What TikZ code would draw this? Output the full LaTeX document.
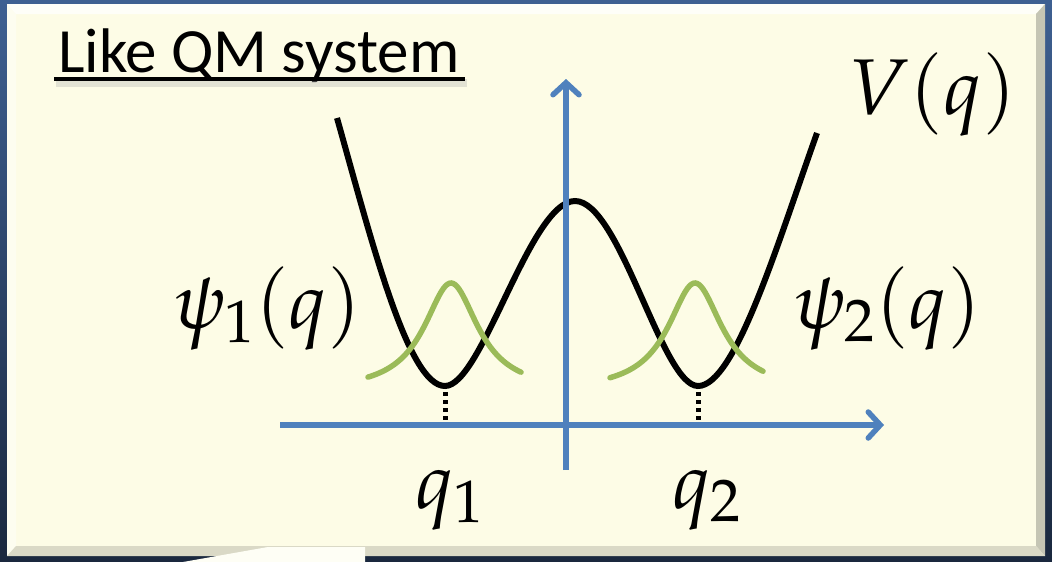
\documentclass[tikz,border=0pt]{standalone}
\usepackage{mathpazo}
\usepackage[no-math]{fontspec}
\newfontfamily\titlefont{Carlito}
\usetikzlibrary{arrows.meta}
\definecolor{frametop}{RGB}{62,96,146}
\definecolor{framebot}{RGB}{26,40,62}
\definecolor{cream}{RGB}{253,252,230}
\definecolor{axisblue}{RGB}{79,129,189}
\definecolor{wavegreen}{RGB}{155,187,89}
\begin{document}
\begin{tikzpicture}[x=1pt,y=-1pt,
  axis/.style={draw=axisblue,line width=5.5pt,-{Straight Barb[length=12pt,width=26pt,line cap=round]}},
  pot/.style={draw=black,line width=6pt},
  wave/.style={draw=wavegreen,line width=5.5pt,line cap=round},
  guide/.style={draw=black,line width=5pt,dash pattern=on 4pt off 4pt},
  lab/.style={inner sep=0pt,anchor=base west,font=\fontsize{79}{94}\selectfont},
  ttl/.style={inner sep=0pt,anchor=base west,font=\titlefont\fontsize{63}{76}\selectfont}]
\useasboundingbox (0,0) rectangle (1052,562);
% frame
\shade[top color=frametop,bottom color=framebot] (0,0) rectangle (1052,562);
\fill[cream] (7,4) rectangle (1045,556);
\fill[white,opacity=0.75] (7,4) -- (1045,4) -- (1036,14) -- (16,14) -- cycle;
\fill[white,opacity=0.4] (7,4) -- (16,14) -- (16,546) -- (7,556) -- cycle;
\fill[black!22!cream] (1045,4) -- (1045,556) -- (1036,546) -- (1036,14) -- cycle;
\fill[black!14!cream] (7,556) -- (1045,556) -- (1036,546) -- (16,546) -- cycle;
\fill[white!60!cream] (183,562) -- (268,547) -- (365,547) -- (365,562) -- cycle;
% title
\node[ttl] (title) at (58,72) {Like QM system};
\draw[line width=8pt,black!30,opacity=0.35] ([shift={(-2,11)}]title.base west) -- ([shift={(7,11)}]title.base east);
\draw[line width=4pt] ([shift={(-4,7)}]title.base west) -- ([shift={(5,7)}]title.base east);
% potential
\coordinate (p0) at (337,118);
\coordinate (p1) at (445,386);
\coordinate (p2) at (575,201);
\coordinate (p3) at (698,386);
\coordinate (p4) at (817,133);
\draw[pot] (p0) .. controls (372,242) and (408,386) .. (p1)
  .. controls (482,386) and (530,201) .. (p2)
  .. controls (620,201) and (662,386) .. (p3)
  .. controls (735,386) and (777,245) .. (p4);
% wave functions
\draw[wave] plot[domain=368:521,samples=80,smooth] (\x,{392-109/(1+((\x-451)/33)^2)});
\draw[wave] plot[domain=610:763,samples=80,smooth] (\x,{392-109/(1+((\x-695)/33)^2)});
% guides
\coordinate (m1) at (445,392); \coordinate (f1) at (445,423);
\coordinate (m2) at (698,392); \coordinate (f2) at (698,423);
\draw[guide] (m1) -- (f1);
\draw[guide] (m2) -- (f2);
% axes
\coordinate (xo) at (280,425); \coordinate (xe) at (884,425);
\coordinate (yo) at (566,470); \coordinate (ye) at (566,79);
\draw[axis] (xo) -- (xe);
\draw[axis] (yo) -- (ye);
% labels
\node[lab] (psi1) at (173,328) {$\psi_1(q)$};
\node[lab] (psi2) at (793,328) {$\psi_2(q)$};
\node[lab] (V) at (848,114) {$V(q)$};
\node[lab] (q1) at (415,508) {$q_1$};
\node[lab] (q2) at (672,508) {$q_2$};
\end{tikzpicture}
\end{document}
